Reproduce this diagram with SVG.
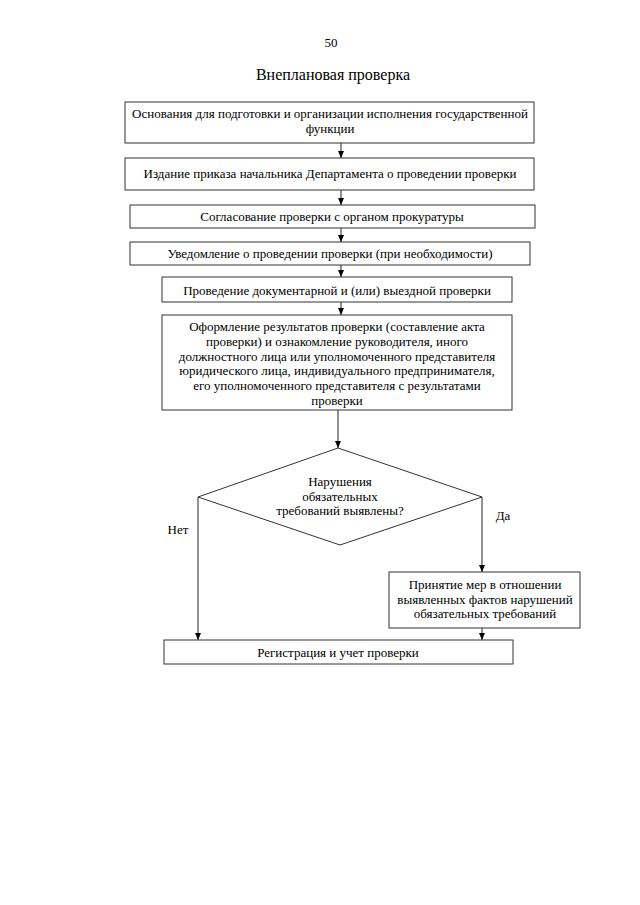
<svg xmlns="http://www.w3.org/2000/svg" width="640" height="905" viewBox="0 0 640 905">
<defs>
<marker id="ah" markerWidth="8" markerHeight="8" refX="7" refY="4" orient="auto" markerUnits="userSpaceOnUse">
<path d="M0,1 L7,4 L0,7 Z" fill="#000"/>
</marker>
<style>
.b{fill:#fff;stroke:#333;stroke-width:1}
.t{font-family:"Liberation Serif","Times New Roman",serif;font-size:13px;fill:#000;text-anchor:middle}
.c{stroke:#222;stroke-width:1;fill:none;marker-end:url(#ah)}
</style>
</defs>
<rect width="640" height="905" fill="#fff"/>
<text class="t" x="331" y="47">50</text>
<text class="t" x="333" y="80" style="font-size:16px">Внеплановая проверка</text>

<g id="connectors">
<path class="c" d="M341,143 V158"/>
<path class="c" d="M341,190 V205"/>
<path class="c" d="M341,228 V242"/>
<path class="c" d="M341,265 V277"/>
<path class="c" d="M341,302 V315"/>
<path class="c" d="M338,410 V448"/>
<path class="c" d="M198,497 V640"/>
<path class="c" d="M482,497 V572"/>
<path class="c" d="M482,628 V640"/>
<text class="t" x="178" y="534">Нет</text>
<text class="t" x="503" y="520">Да</text>
</g>

<g id="n1">
<rect class="b" x="125" y="102" width="409" height="41"/>
<text class="t" x="330" y="118">Основания для подготовки и организации исполнения государственной</text>
<text class="t" x="330" y="133">функции</text>
</g>
<g id="n2">
<rect class="b" x="125" y="158" width="409" height="32"/>
<text class="t" x="330" y="178">Издание приказа начальника Департамента о проведении проверки</text>
</g>
<g id="n3">
<rect class="b" x="130" y="205" width="405" height="23"/>
<text class="t" x="332" y="221">Согласование проверки с органом прокуратуры</text>
</g>
<g id="n4">
<rect class="b" x="130" y="242" width="400" height="23"/>
<text class="t" x="330" y="258">Уведомление о проведении проверки (при необходимости)</text>
</g>
<g id="n5">
<rect class="b" x="162" y="277" width="350" height="25"/>
<text class="t" x="337" y="295">Проведение документарной и (или) выездной проверки</text>
</g>
<g id="n6">
<rect class="b" x="162" y="315" width="350" height="95"/>
<text class="t" x="337" y="331">Оформление результатов  проверки (составление акта</text>
<text class="t" x="337" y="346">проверки) и ознакомление руководителя, иного</text>
<text class="t" x="337" y="361">должностного лица или уполномоченного представителя</text>
<text class="t" x="337" y="375">юридического лица, индивидуального предпринимателя,</text>
<text class="t" x="337" y="390">его уполномоченного  представителя с результатами</text>
<text class="t" x="337" y="405">проверки</text>
</g>
<g id="n7">
<polygon class="b" points="338,448 482,497 340,545 198,497"/>
<text class="t" x="340" y="486">Нарушения</text>
<text class="t" x="340" y="501">обязательных</text>
<text class="t" x="340" y="515">требований выявлены?</text>
</g>
<g id="n8">
<rect class="b" x="389" y="572" width="191" height="56"/>
<text class="t" x="485" y="589">Принятие мер в отношении</text>
<text class="t" x="485" y="604">выявленных фактов нарушений</text>
<text class="t" x="485" y="618">обязательных требований</text>
</g>
<g id="n9">
<rect class="b" x="164" y="640" width="349" height="24"/>
<text class="t" x="338" y="657">Регистрация и учет проверки</text>
</g>
</svg>
